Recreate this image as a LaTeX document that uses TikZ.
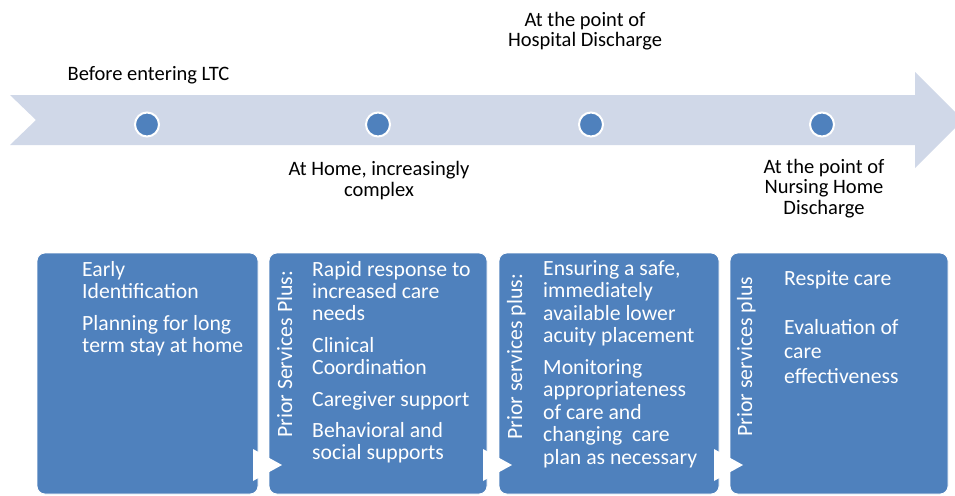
\documentclass[tikz,border=0pt]{standalone}
\usepackage{fontspec}
\setmainfont{Carlito}
\definecolor{boxblue}{HTML}{4F81BD}
\definecolor{bandcol}{HTML}{D0D8E8}
\begin{document}
\begin{tikzpicture}[x=1pt,y=-1pt,
  box/.style={fill=boxblue, draw=white, line width=0.8pt, rounded corners=8pt},
  dot/.style={circle, fill=boxblue, draw=white, line width=2pt, minimum size=24pt, inner sep=0pt},
  lbl/.style={align=center, font=\fontsize{20.5}{20.5}\selectfont, inner sep=0pt, anchor=base},
  body/.style={align=left, font=\fontsize{21.7}{22}\selectfont, text=white, inner sep=0pt, anchor=base west},
  side/.style={rotate=90, font=\fontsize{21.8}{22}\selectfont, text=white, inner sep=0pt, anchor=base west},
  tri/.style={fill=white}]
\useasboundingbox (0,0) rectangle (955,495);
\fill[white] (0,0) rectangle (955,495);
% timeline band
\fill[bandcol] (10,95) -- (915,95) -- (915,72) -- (963,120) -- (915,168) -- (915,145) -- (10,145) -- (36,120) -- cycle;
% dots
\node[dot] (d1) at (147,124.5) {};
\node[dot] (d2) at (378,124.5) {};
\node[dot] (d3) at (591,124.5) {};
\node[dot] (d4) at (822,124.5) {};
% labels (anchored at the baseline of their last line)
\node[lbl] (l1) at (148.5,81) {Before entering LTC};
\node[lbl] (l2) at (379,196) {At Home, increasingly\\complex};
\node[lbl] (l3) at (585,47) {At the point of\\Hospital Discharge};
\node[lbl] (l4) at (824,214) {At the point of\\Nursing Home\\Discharge};
% boxes
\draw[box] (37,253) rectangle (258,494);
\draw[box] (269,253) rectangle (487,494);
\draw[box] (499,253) rectangle (719,494);
\draw[box] (730,253) rectangle (948,494);
% chevrons
\fill[tri] (253,449) -- (282,465) -- (253,481) -- cycle;
\fill[tri] (483,449) -- (512,465) -- (483,481) -- cycle;
\fill[tri] (714,449) -- (743,465) -- (714,481) -- cycle;
% box texts (anchored at the baseline of their last line)
\node[body] (t1) at (82,352) {Early\\Identification\\[10pt]Planning for long\\term stay at home};
\node[side] (s2) at (292,438) {Prior Services Plus:};
\node[body] (t2) at (312,459) {Rapid response to\\increased care\\needs\\[10pt]Clinical\\Coordination\\[10pt]Caregiver support\\[9pt]Behavioral and\\social supports};
\node[side] (s3) at (522,440) {Prior services plus:};
\node[body, font=\fontsize{21.7}{22.5}\selectfont] (t3) at (543,464) {Ensuring a safe,\\immediately\\available lower\\acuity placement\\[9pt]Monitoring\\appropriateness\\of care and\\changing\ \ care\\plan as necessary};
\node[side] (s4) at (752,437) {Prior services plus};
\node[body] (t4a) at (784,285) {Respite care};
\node[body, font=\fontsize{21.7}{24.5}\selectfont] (t4b) at (784,383) {Evaluation of\\care\\effectiveness};
\end{tikzpicture}
\end{document}
